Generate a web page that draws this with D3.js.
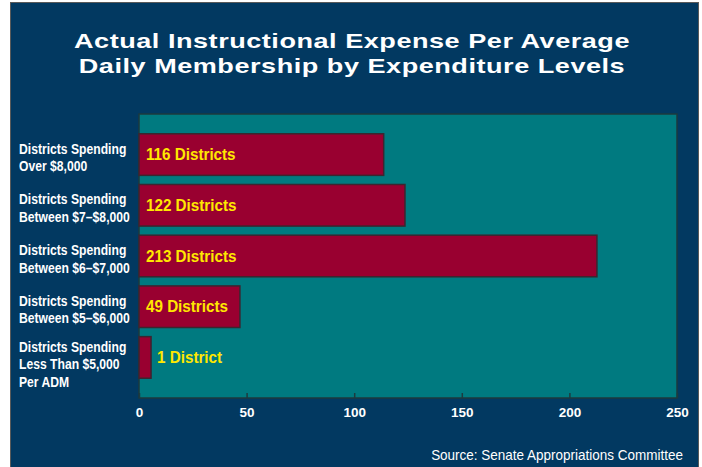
<!DOCTYPE html>
<html>
<head>
<meta charset="utf-8">
<script src="https://cdn.jsdelivr.net/npm/d3@7"></script>
<style>
  body { margin: 0; background: #ffffff; }
  text { font-family: "Liberation Sans", Arial, sans-serif; }
  .bold { font-weight: bold; }
</style>
</head>
<body>
<div id="chart"></div>
<script>
// podaci
const categories = [
    ["Districts Spending", "Over $8,000"],
    ["Districts Spending", "Between $7\u2013$8,000"],
    ["Districts Spending", "Between $6\u2013$7,000"],
    ["Districts Spending", "Between $5\u2013$6,000"],
    ["Districts Spending", "Less Than $5,000", "Per ADM"]
];
const barValues = [113.7, 123.6, 212.8, 46.9, 5.6];
const barLabels = ["116 Districts", "122 Districts", "213 Districts", "49 Districts", "1 District"];
const xTicks = [0, 50, 100, 150, 200, 250];
const titleLines = ["Actual Instructional Expense Per Average", "Daily Membership by Expenditure Levels"];
const sourceText = "Source: Senate Appropriations Committee";

const sirina = 702;
const visina = 467;
const plot = { left: 139, right: 677, top: 114, bottom: 398 };

// sazimanje / razvlacenje teksta
const stisni = (sel, faktor) => {
    sel.each(function () {
        const w = this.getComputedTextLength();
        d3.select(this)
            .attr("textLength", w * faktor)
            .attr("lengthAdjust", "spacingAndGlyphs");
    });
};

const svg = d3.select("#chart")
    .append("svg")
    .attr("width", sirina)
    .attr("height", visina);

// pozadina
svg.append("rect")
    .attr("x", 10.5).attr("y", 2.5)
    .attr("width", 688).attr("height", 470)
    .attr("fill", "#023961")
    .attr("stroke", "#5a5a5a")
    .attr("stroke-width", 1);

// naslov
const naslov = svg.append("g")
    .selectAll("text")
    .data(titleLines)
    .join("text")
    .attr("class", "bold")
    .attr("y", (d, i) => 48 + i * 25)
    .attr("fill", "#ffffff")
    .style("font-size", "20.5px")
    .style("letter-spacing", "0.4px")
    .text(d => d);
const naslovFaktor = 556 / naslov.node().getComputedTextLength();
stisni(naslov, naslovFaktor);
naslov.attr("x", function () { return 352 - this.getAttribute("textLength") / 2; });

// skale
const xSkala = d3.scaleLinear()
    .domain([0, 250])
    .range([plot.left, plot.right]);

const ySkala = d3.scaleBand()
    .domain(d3.range(categories.length))
    .range([plot.top, plot.bottom])
    .paddingInner(0.18)
    .paddingOuter(0.39);

// podrucje grafa
svg.append("rect")
    .attr("x", plot.left).attr("y", plot.top)
    .attr("width", plot.right - plot.left)
    .attr("height", plot.bottom - plot.top)
    .attr("fill", "#007a80")
    .attr("stroke", "#1d3a3e")
    .attr("stroke-width", 1.5);

// os x
const xOs = svg.append("g")
    .attr("transform", `translate(0, ${plot.bottom})`)
    .call(d3.axisBottom(xSkala).tickValues(xTicks).tickSizeInner(-5).tickSizeOuter(0).tickPadding(9));
xOs.select(".domain").remove();
xOs.selectAll(".tick line").attr("stroke", "#1d3a3e").attr("stroke-width", 1.5);
xOs.selectAll(".tick text")
    .attr("class", "bold")
    .attr("fill", "#ffffff")
    .style("font-family", "'Liberation Sans', Arial, sans-serif")
    .style("font-size", "13.5px");

// stupci
const kosare = svg.append("g")
    .selectAll("g")
    .data(barValues)
    .join("g");

kosare.append("rect")
    .attr("x", xSkala(0))
    .attr("y", (d, i) => ySkala(i))
    .attr("width", d => xSkala(d) - xSkala(0))
    .attr("height", ySkala.bandwidth())
    .attr("fill", "#990030")
    .attr("stroke", "#3b2630")
    .attr("stroke-width", 1.5);

const oznakeStupaca = kosare.append("text")
    .attr("class", "bold")
    .attr("x", d => d < 20 ? xSkala(d) + 6 : xSkala(0) + 7)
    .attr("y", (d, i) => ySkala(i) + ySkala.bandwidth() / 2)
    .attr("dy", "0.36em")
    .attr("fill", "#ffe800")
    .style("font-size", "16px")
    .text((d, i) => barLabels[i]);
stisni(oznakeStupaca, 0.95);

// oznake kategorija
const redovi = categories.flatMap((linije, i) =>
    linije.map((t, j) => ({ t, i, j, n: linije.length })));

const oznake = svg.append("g")
    .selectAll("text")
    .data(redovi)
    .join("text")
    .attr("class", "bold")
    .attr("x", 19)
    .attr("y", d => ySkala(d.i) + ySkala.bandwidth() / 2 - (d.n - 1) * 4.5 + 3.5 + d.j * 17.5)
    .attr("fill", "#ffffff")
    .style("font-size", "15px")
    .text(d => d.t);
stisni(oznake, 0.81);

// izvor
const izvor = svg.append("text")
    .attr("y", 460)
    .attr("fill", "#ffffff")
    .style("font-size", "14.5px")
    .text(sourceText);
stisni(izvor, 0.93);
izvor.attr("x", 683 - izvor.attr("textLength"));
</script>
</body>
</html>
